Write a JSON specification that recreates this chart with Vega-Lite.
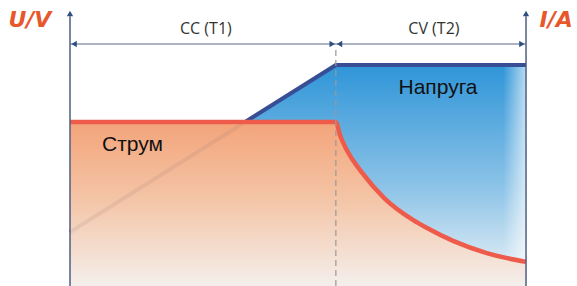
{
  "$schema": "https://vega.github.io/schema/vega-lite/v6.json",
  "width": 577,
  "height": 286,
  "padding": 0,
  "autosize": {"type": "none"},
  "background": "white",
  "config": {"view": {"stroke": null}},
  "datasets": {
    "voltage": [{"t": 0, "v": 24.4}, {"t": 58.3, "v": 100}, {"t": 100, "v": 100}],
    "current": [
      {"t": 0, "v": 74.2}, {"t": 58.3, "v": 74.2}, {"t": 59.2, "v": 68.3}, {"t": 60.7, "v": 61.5},
      {"t": 64.0, "v": 51.4}, {"t": 68.9, "v": 39.8}, {"t": 75.2, "v": 29.9}, {"t": 78.3, "v": 26.2},
      {"t": 84.0, "v": 20.4}, {"t": 91.4, "v": 14.9}, {"t": 95.6, "v": 12.7}, {"t": 100, "v": 10.9}
    ],
    "fade": [{"t": 95, "v": 100}, {"t": 100, "v": 100}],
    "axes": [{"t": 0, "v": 0, "v2": 122}, {"t": 100, "v": 0, "v2": 122}],
    "axisTips": [{"t": 0, "v": 123.3}, {"t": 100, "v": 123.3}],
    "dim": [{"t": 0, "t2": 100, "v": 109.5}],
    "arrowL": [{"t": 0.9, "v": 109.5}, {"t": 59.1, "v": 109.5}],
    "arrowR": [{"t": 57.5, "v": 109.5}, {"t": 99.1, "v": 109.5}],
    "split": [{"t": 58.3, "v": 0, "v2": 107.5}],
    "phases": [{"t": 29.8, "v": 116.3, "label": "CC (T1)"}, {"t": 79.8, "v": 116.3, "label": "CV (T2)"}],
    "units": [{"t": -8.8, "v": 120.4, "label": "U/V"}, {"t": 106.6, "v": 120.4, "label": "I/A"}],
    "names": [{"t": 13.7, "v": 63.8, "label": "Струм"}, {"t": 80.7, "v": 89.6, "label": "Напруга"}]
  },
  "layer": [
    {
      "data": {"name": "voltage"},
      "mark": {"type": "area", "interpolate": "linear",
        "color": {"gradient": "linear", "x1": 0, "y1": 0, "x2": 0, "y2": 1,
          "stops": [{"offset": 0, "color": "#2f95d8"}, {"offset": 0.55, "color": "#8cc3e7"}, {"offset": 1, "color": "#eef4f8"}]}},
      "encoding": {
        "x": {"field": "t", "type": "quantitative", "axis": null, "scale": {"domain": [-15.35, 111.18], "nice": false, "zero": false}},
        "y": {"field": "v", "type": "quantitative", "axis": null, "scale": {"domain": [0, 129.4], "nice": false, "zero": false}},
        "y2": {"datum": 0}
      }
    },
    {
      "data": {"name": "fade"},
      "mark": {"type": "area",
        "color": {"gradient": "linear", "x1": 0, "y1": 0, "x2": 1, "y2": 0,
          "stops": [{"offset": 0, "color": "rgba(255,255,255,0)"}, {"offset": 1, "color": "rgba(255,255,255,0.65)"}]}},
      "encoding": {
        "x": {"field": "t", "type": "quantitative"},
        "y": {"field": "v", "type": "quantitative"},
        "y2": {"datum": 0}
      }
    },
    {
      "data": {"name": "voltage"},
      "mark": {"type": "line", "color": "#2b4a9b", "strokeWidth": 4, "strokeJoin": "miter"},
      "encoding": {
        "x": {"field": "t", "type": "quantitative"},
        "y": {"field": "v", "type": "quantitative"}
      }
    },
    {
      "data": {"name": "current"},
      "mark": {"type": "area", "interpolate": "monotone",
        "color": {"gradient": "linear", "x1": 0, "y1": 0, "x2": 0, "y2": 1,
          "stops": [{"offset": 0, "color": "#f3a47a"}, {"offset": 0.5, "color": "#f4c7aa"}, {"offset": 1, "color": "#f4efec"}]}},
      "encoding": {
        "x": {"field": "t", "type": "quantitative"},
        "y": {"field": "v", "type": "quantitative"},
        "y2": {"datum": 0}
      }
    },
    {
      "data": {"name": "voltage"},
      "mark": {"type": "line", "color": "#8a6a70", "strokeWidth": 4, "opacity": 0.13},
      "encoding": {
        "x": {"field": "t", "type": "quantitative"},
        "y": {"field": "v", "type": "quantitative"}
      }
    },
    {
      "data": {"name": "current"},
      "mark": {"type": "line", "interpolate": "monotone", "color": "#ee5b4b", "strokeWidth": 4.5, "strokeJoin": "miter"},
      "encoding": {
        "x": {"field": "t", "type": "quantitative"},
        "y": {"field": "v", "type": "quantitative"}
      }
    },
    {
      "data": {"name": "split"},
      "mark": {"type": "rule", "color": "#9a9a9a", "strokeWidth": 1.2, "strokeDash": [6, 4]},
      "encoding": {
        "x": {"field": "t", "type": "quantitative"},
        "y": {"field": "v", "type": "quantitative"},
        "y2": {"field": "v2"}
      }
    },
    {
      "data": {"name": "axes"},
      "mark": {"type": "rule", "color": "#4f5e80", "strokeWidth": 1.5},
      "encoding": {
        "x": {"field": "t", "type": "quantitative"},
        "y": {"field": "v", "type": "quantitative"},
        "y2": {"field": "v2"}
      }
    },
    {
      "data": {"name": "axisTips"},
      "mark": {"type": "point", "shape": "triangle-up", "filled": true, "color": "#2f4f80", "size": 40, "opacity": 1},
      "encoding": {
        "x": {"field": "t", "type": "quantitative"},
        "y": {"field": "v", "type": "quantitative"}
      }
    },
    {
      "data": {"name": "dim"},
      "mark": {"type": "rule", "color": "#5a6a88", "strokeWidth": 1.2},
      "encoding": {
        "x": {"field": "t", "type": "quantitative"},
        "x2": {"field": "t2"},
        "y": {"field": "v", "type": "quantitative"}
      }
    },
    {
      "data": {"name": "arrowL"},
      "mark": {"type": "point", "shape": "triangle-left", "filled": true, "color": "#2f4f80", "size": 40, "opacity": 1},
      "encoding": {
        "x": {"field": "t", "type": "quantitative"},
        "y": {"field": "v", "type": "quantitative"}
      }
    },
    {
      "data": {"name": "arrowR"},
      "mark": {"type": "point", "shape": "triangle-right", "filled": true, "color": "#2f4f80", "size": 40, "opacity": 1},
      "encoding": {
        "x": {"field": "t", "type": "quantitative"},
        "y": {"field": "v", "type": "quantitative"}
      }
    },
    {
      "data": {"name": "phases"},
      "mark": {"type": "text", "font": "Open Sans", "fontSize": 16, "color": "#333333", "align": "center", "baseline": "middle"},
      "encoding": {
        "x": {"field": "t", "type": "quantitative"},
        "y": {"field": "v", "type": "quantitative"},
        "text": {"field": "label"}
      }
    },
    {
      "data": {"name": "units"},
      "mark": {"type": "text", "font": "DejaVu Sans", "fontSize": 22, "fontWeight": "bold", "fontStyle": "italic", "color": "#e8572b", "align": "center", "baseline": "middle"},
      "encoding": {
        "x": {"field": "t", "type": "quantitative"},
        "y": {"field": "v", "type": "quantitative"},
        "text": {"field": "label"}
      }
    },
    {
      "data": {"name": "names"},
      "mark": {"type": "text", "font": "Liberation Sans", "fontSize": 21, "color": "#111111", "align": "center", "baseline": "middle"},
      "encoding": {
        "x": {"field": "t", "type": "quantitative"},
        "y": {"field": "v", "type": "quantitative"},
        "text": {"field": "label"}
      }
    }
  ]
}
